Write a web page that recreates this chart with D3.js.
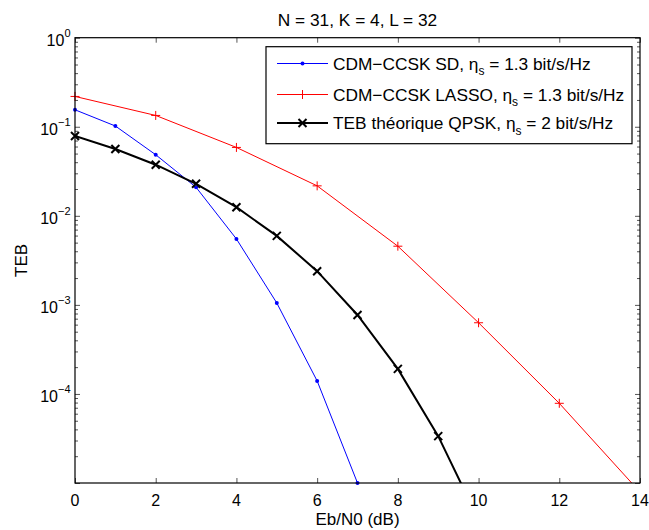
<!DOCTYPE html>
<html>
<head>
<meta charset="utf-8">
<script src="https://cdn.jsdelivr.net/npm/d3@7"></script>
<style>
  html, body { margin: 0; padding: 0; background: #fff; }
  svg { display: block; font-family: "Liberation Sans", Arial, Helvetica, sans-serif; }
</style>
</head>
<body>
<svg id="chart" width="649" height="530"></svg>
<script>
// ---- data ----
const xSD = [0, 1, 2, 3, 4, 5, 6, 7];
const tebSD = [0.155, 0.102, 0.0485, 0.0209, 0.0055, 0.00105, 1.4e-4, 1.0e-5];

const xLASSO = [0, 2, 4, 6, 8, 10, 12, 14];
const tebLASSO = [0.219, 0.134, 0.0586, 0.0217, 0.00456, 6.3e-4, 7.85e-5, 7.9e-6];

const xQPSK = [0, 1, 2, 3, 4, 5, 6, 7, 8, 9, 10];
const tebQPSK = [0.0786, 0.0563, 0.0375, 0.0229, 0.0125, 0.00595, 0.00239, 7.7e-4, 1.91e-4, 3.36e-5, 3.87e-6];

const xTicks = [0, 2, 4, 6, 8, 10, 12, 14];
const yTickExps = [0, -1, -2, -3, -4];
const legendLabels = [
  ["CDM\u2212CCSK SD, \u03B7", "s", " = 1.3 bit/s/Hz"],
  ["CDM\u2212CCSK LASSO, \u03B7", "s", " = 1.3 bit/s/Hz"],
  ["TEB th\u00E9orique QPSK, \u03B7", "s", " = 2 bit/s/Hz"]
];
const titleText = "N = 31, K = 4, L = 32";
const xLabelText = "Eb/N0 (dB)";
const yLabelText = "TEB";

// ---- layout ----
const svg = d3.select("#chart");
const L = 75, R = 640, T = 37.7, B = 483;
const x = d3.scaleLinear().domain([0, 14]).range([L, R]);
const y = d3.scaleLog().domain([1e-5, 1]).range([B, T]);

svg.append("defs").append("clipPath").attr("id", "clip")
  .append("rect").attr("x", L).attr("y", T).attr("width", R - L).attr("height", B - T);

const minor = [];
for (let e = -5; e < 0; e++) for (let m = 2; m <= 9; m++) minor.push(m * Math.pow(10, e));
const major = [1, 0.1, 0.01, 0.001, 1e-4, 1e-5];

function styleAxis(g) {
  g.select(".domain").remove();
  g.selectAll(".tick line").attr("stroke", "#555").attr("stroke-width", 1);
  g.selectAll(".tick text").remove();
}
svg.append("g").attr("transform", `translate(0,${B})`)
  .call(d3.axisBottom(x).tickValues(xTicks).tickSizeInner(-5).tickSizeOuter(0)).call(styleAxis);
svg.append("g").attr("transform", `translate(0,${T})`)
  .call(d3.axisTop(x).tickValues(xTicks).tickSizeInner(-5).tickSizeOuter(0)).call(styleAxis);
svg.append("g").attr("transform", `translate(${L},0)`)
  .call(d3.axisLeft(y).tickValues(major).tickSizeInner(-5).tickSizeOuter(0)).call(styleAxis);
svg.append("g").attr("transform", `translate(${L},0)`)
  .call(d3.axisLeft(y).tickValues(minor).tickSizeInner(-3).tickSizeOuter(0)).call(styleAxis);
svg.append("g").attr("transform", `translate(${R},0)`)
  .call(d3.axisRight(y).tickValues(major).tickSizeInner(-5).tickSizeOuter(0)).call(styleAxis);
svg.append("g").attr("transform", `translate(${R},0)`)
  .call(d3.axisRight(y).tickValues(minor).tickSizeInner(-3).tickSizeOuter(0)).call(styleAxis);

svg.append("g").selectAll("text").data(xTicks).join("text")
  .attr("x", d => x(d)).attr("y", 505.5)
  .attr("text-anchor", "middle").attr("font-size", 16).attr("fill", "#000")
  .text(d => d);

const yl = svg.append("g").selectAll("text").data(yTickExps).join("text")
  .attr("x", L - 4.5).attr("y", d => y(Math.pow(10, d)) + 7.8)
  .attr("text-anchor", "end").attr("font-size", 16).attr("fill", "#000");
yl.append("tspan").text("10");
yl.append("tspan").attr("font-size", 11).attr("dy", -8.5)
  .text(d => d === 0 ? "0" : "\u2212" + Math.abs(d));

svg.append("text").attr("x", (L + R) / 2).attr("y", 25.5).attr("text-anchor", "middle")
  .attr("font-size", 17.3).text(titleText);
svg.append("text").attr("x", (L + R) / 2).attr("y", 525).attr("text-anchor", "middle")
  .attr("font-size", 17).text(xLabelText);
svg.append("text").attr("transform", `translate(27,${(T + B) / 2}) rotate(-90)`)
  .attr("text-anchor", "middle").attr("font-size", 17).text(yLabelText);

// ---- series ----
const plot = svg.append("g").attr("clip-path", "url(#clip)");
const line = d3.line().x(d => x(d[0])).y(d => y(d[1]));

const sd = d3.zip(xSD, tebSD), la = d3.zip(xLASSO, tebLASSO), qp = d3.zip(xQPSK, tebQPSK);

plot.append("path").datum(sd).attr("d", line).attr("fill", "none").attr("stroke", "#0000ff").attr("stroke-width", 1);
plot.append("path").datum(la).attr("d", line).attr("fill", "none").attr("stroke", "#ff0000").attr("stroke-width", 1);
plot.append("path").datum(qp).attr("d", line).attr("fill", "none").attr("stroke", "#000").attr("stroke-width", 2);

function dot(g, cx, cy) { g.append("circle").attr("cx", cx).attr("cy", cy).attr("r", 2).attr("fill", "#0000ff"); }
function plus(g, cx, cy) {
  const s = 4.5;
  g.append("path").attr("d", `M${cx - s},${cy}H${cx + s}M${cx},${cy - s}V${cy + s}`)
    .attr("stroke", "#ff0000").attr("stroke-width", 1).attr("fill", "none");
}
function cross(g, cx, cy) {
  const s = 4;
  g.append("path").attr("d", `M${cx - s},${cy - s}L${cx + s},${cy + s}M${cx - s},${cy + s}L${cx + s},${cy - s}`)
    .attr("stroke", "#000").attr("stroke-width", 2).attr("fill", "none");
}
const mk = svg.append("g");
sd.forEach(d => dot(mk, x(d[0]), y(d[1])));
la.filter(d => d[1] >= 1e-5).forEach(d => plus(mk, x(d[0]), y(d[1])));
qp.filter(d => d[1] >= 1e-5).forEach(d => cross(mk, x(d[0]), y(d[1])));

svg.append("rect").attr("x", L).attr("y", T).attr("width", R - L).attr("height", B - T)
  .attr("fill", "none").attr("stroke", "#000").attr("stroke-width", 1.2);

// ---- legend ----
const lgX = 266, lgY = 46.7, lgW = 366, lgH = 97;
const lg = svg.append("g");
lg.append("rect").attr("x", lgX).attr("y", lgY).attr("width", lgW).attr("height", lgH)
  .attr("fill", "#fff").attr("stroke", "#000").attr("stroke-width", 1.2);
const rowsY = [63.5, 94.5, 123];
const colors = ["#0000ff", "#ff0000", "#000"];
const widths = [1, 1, 2];
rowsY.forEach((ry, i) => {
  lg.append("line").attr("x1", 277).attr("x2", 328).attr("y1", ry).attr("y2", ry)
    .attr("stroke", colors[i]).attr("stroke-width", widths[i]);
  if (i === 0) dot(lg, 302.5, ry);
  if (i === 1) plus(lg, 302.5, ry);
  if (i === 2) cross(lg, 302.5, ry);
  const t = lg.append("text").attr("x", 333).attr("y", ry + 6).attr("font-size", 17.3).attr("fill", "#000");
  t.append("tspan").text(legendLabels[i][0]);
  t.append("tspan").attr("font-size", 12).attr("dy", 5.5).text(legendLabels[i][1]);
  t.append("tspan").attr("dy", -5.5).text(legendLabels[i][2]);
});
</script>
</body>
</html>
